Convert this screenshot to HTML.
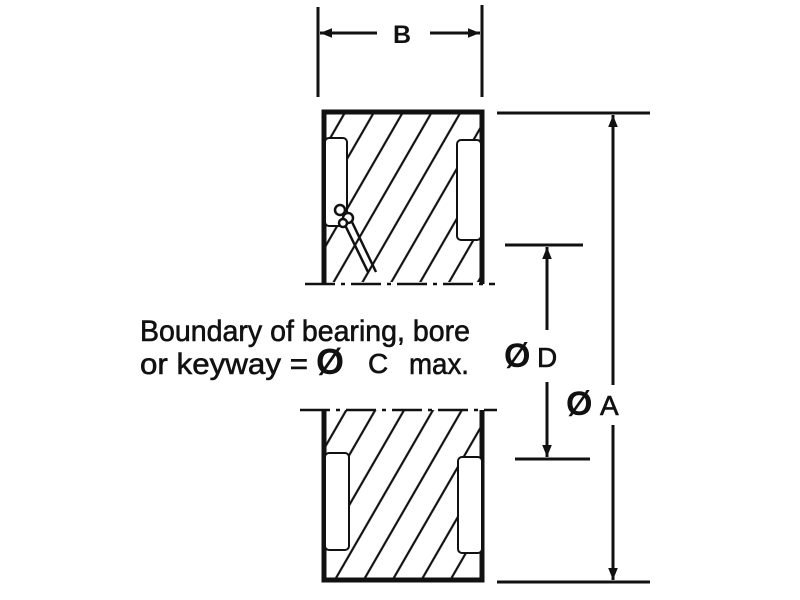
<!DOCTYPE html>
<html><head><style>
html,body{margin:0;padding:0;background:#fff;width:800px;height:600px;overflow:hidden}
svg{display:block}
text{font-family:"Liberation Sans",Arial,sans-serif;fill:#111}
.t{stroke:#111;stroke-width:0.6}
</style></head><body>
<svg width="800" height="600" viewBox="0 0 800 600">
<defs>
<pattern id="h" width="25" height="40" patternUnits="userSpaceOnUse" patternTransform="rotate(30)">
<line x1="5" y1="0" x2="5" y2="40" stroke="#111" stroke-width="2.2"/>
</pattern>
<marker id="ar" viewBox="0 0 10 10" refX="10" refY="5" markerWidth="12" markerHeight="12" markerUnits="userSpaceOnUse" orient="auto">
<path d="M0,1 L10,5 L0,9 z" fill="#111"/></marker>
</defs>
<g stroke="#111" fill="none">
<line x1="318" y1="7" x2="318" y2="97" stroke-width="3"/>
<line x1="482" y1="5" x2="482" y2="97" stroke-width="3"/>
<line x1="377" y1="33" x2="320" y2="33" stroke-width="3" marker-end="url(#ar)"/>
<line x1="430" y1="33" x2="480" y2="33" stroke-width="3" marker-end="url(#ar)"/>
<rect x="324" y="112" width="158" height="170" fill="url(#h)" stroke="none"/>
<path d="M324,284 V112 H482 V284" stroke-width="5"/>
<rect x="325" y="138" width="22" height="88" rx="4" fill="#fff" stroke-width="2"/>
<rect x="457" y="140" width="24" height="100" rx="4" fill="#fff" stroke-width="2"/>
<line x1="305" y1="284" x2="495" y2="284" stroke-width="2.5" stroke-dasharray="30 6 4 6"/>
<path d="M345,225 L368,272 M352,222 L376,272" stroke-width="2.5"/>
<circle cx="340" cy="210" r="5" stroke-width="2.5" fill="#fff"/>
<circle cx="348" cy="218" r="5" stroke-width="2.5" fill="#fff"/>
<circle cx="343" cy="223" r="4" stroke-width="2.5" fill="#fff"/>
<rect x="324" y="410" width="158" height="170" fill="url(#h)" stroke="none"/>
<path d="M324,410 V580 H482 V410" stroke-width="5"/>
<rect x="325" y="453" width="24" height="97" rx="4" fill="#fff" stroke-width="2"/>
<rect x="458" y="457" width="24" height="96" rx="4" fill="#fff" stroke-width="2"/>
<line x1="300" y1="410" x2="497" y2="410" stroke-width="2.5" stroke-dasharray="30 6 4 6"/>
<line x1="497" y1="113" x2="650" y2="113" stroke-width="3"/>
<line x1="497" y1="582" x2="650" y2="582" stroke-width="3"/>
<line x1="613" y1="385" x2="613" y2="115" stroke-width="3" marker-end="url(#ar)"/>
<line x1="613" y1="425" x2="613" y2="580" stroke-width="3" marker-end="url(#ar)"/>
<line x1="505" y1="245" x2="583" y2="245" stroke-width="3"/>
<line x1="515" y1="459" x2="590" y2="459" stroke-width="3"/>
<line x1="547" y1="330" x2="547" y2="247" stroke-width="3" marker-end="url(#ar)"/>
<line x1="547" y1="382" x2="547" y2="457" stroke-width="3" marker-end="url(#ar)"/>
</g>
<text x="402" y="43" font-size="25" font-weight="bold" text-anchor="middle">B</text>
<text class="t" x="140" y="341" font-size="30" textLength="330" lengthAdjust="spacingAndGlyphs">Boundary of bearing, bore</text>
<text class="t" x="140" y="374" font-size="30" textLength="168" lengthAdjust="spacingAndGlyphs">or keyway =</text>
<text x="316" y="374" font-size="36" font-weight="bold">Ø</text>
<text x="368" y="373" font-size="28" class="t">C</text>
<text class="t" x="409" y="374" font-size="30" textLength="60" lengthAdjust="spacingAndGlyphs">max.</text>
<text x="504" y="367" font-size="34" font-weight="bold">Ø</text>
<text x="537" y="367" font-size="28" class="t">D</text>
<text x="566" y="415" font-size="34" font-weight="bold">Ø</text>
<text x="600" y="415" font-size="28" class="t">A</text>
</svg>
</body></html>
